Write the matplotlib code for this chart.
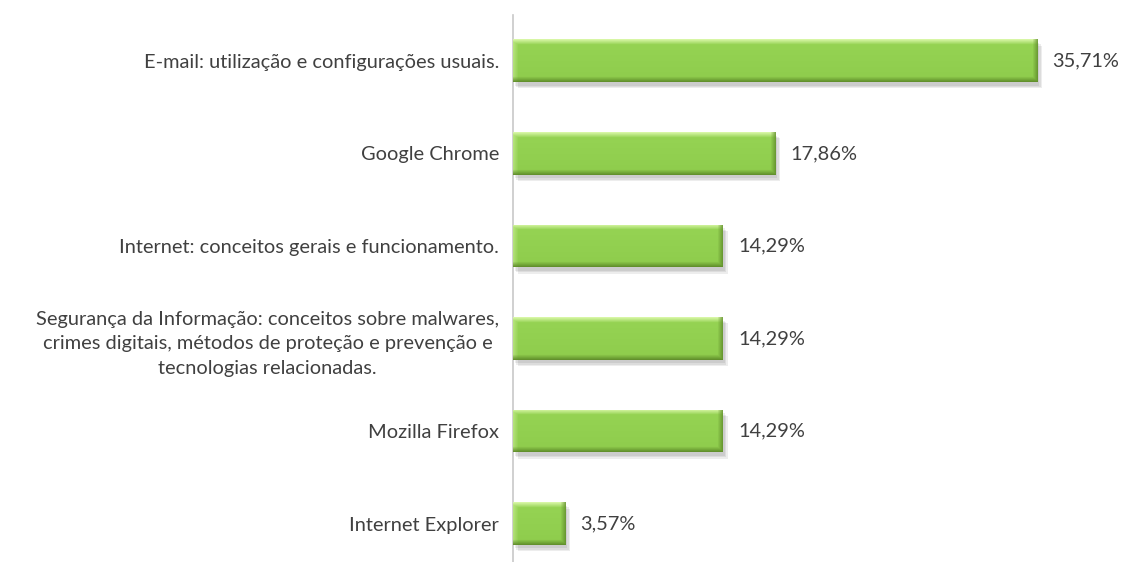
import numpy as np
import matplotlib
matplotlib.use("Agg")
import matplotlib.pyplot as plt
import matplotlib.patheffects as pe
from matplotlib.colors import to_rgb

categories = [
    "E-mail: utilização e configurações usuais.",
    "Google Chrome",
    "Internet: conceitos gerais e funcionamento.",
    "Segurança da Informação: conceitos sobre malwares,\ncrimes digitais, métodos de proteção e prevenção e\ntecnologias relacionadas.",
    "Mozilla Firefox",
    "Internet Explorer",
]
values = [35.71, 17.86, 14.29, 14.29, 14.29, 3.57]
value_labels = ["35,71%", "17,86%", "14,29%", "14,29%", "14,29%", "3,57%"]

plt.rcParams['font.family'] = ['Lato', 'DejaVu Sans']
TEXT = "#404040"
FS = 14.4

fig = plt.figure(figsize=(11.28, 5.62), dpi=100)
top_px, bot_px = 14.5, 570.0
ax = fig.add_axes([513/1128, (562 - bot_px)/562, 587/1128, (bot_px - top_px)/562])

y = np.arange(len(categories))
base = np.array(to_rgb("#92D050"))
light = np.array(to_rgb("#D4F3A2"))
dark = np.array(to_rgb("#5E8A2A"))

shadow = [pe.SimplePatchShadow(offset=(o, -o - 1), shadow_rgbFace="#000000", alpha=0.07)
          for o in (3.5, 2.5, 1.5)]
bars = ax.barh(y, values, height=0.46, color="#92D050", edgecolor="none", zorder=2,
               path_effects=shadow + [pe.Normal()])
ax.set_xlim(0, 40)
ax.set_ylim(len(categories) - 0.5, -0.5)

fig.canvas.draw()
for b in bars:
    x0, y0 = b.get_x(), b.get_y()
    w, h = b.get_width(), b.get_height()
    p0 = ax.transData.transform((x0, y0))
    p1 = ax.transData.transform((x0 + w, y0 + h))
    wp = max(int(abs(p1[0] - p0[0])), 2)
    hp = max(int(abs(p1[1] - p0[1])), 2)
    img = np.tile(base, (hp, wp, 1))
    yy = np.arange(hp)[:, None] * np.ones((1, wp))
    xx = np.ones((hp, 1)) * np.arange(wp)[None, :]
    bev = 5.0
    top = np.clip(1 - yy / bev, 0, 1)
    bot = np.clip(1 - (hp - 1 - yy) / bev, 0, 1)
    left = np.clip(1 - xx / bev, 0, 1)
    right = np.clip(1 - (wp - 1 - xx) / bev, 0, 1)
    lt = np.maximum(top, left * 0.5)[..., None]
    dk = np.maximum(bot * 0.85, right * 0.75)[..., None]
    img = img * (1 - lt) + light * lt
    img = img * (1 - dk) + dark * dk
    shade = (0.03 * (yy / hp - 0.5))[..., None]
    img = np.clip(img - shade, 0, 1)
    im = ax.imshow(img, extent=(x0, x0 + w, y0 + h, y0), origin="upper",
                   aspect="auto", zorder=3, interpolation="bilinear")
    im.set_clip_path(b)

for b, lab in zip(bars, value_labels):
    ax.annotate(lab, (b.get_width(), b.get_y() + b.get_height() / 2),
                xytext=(11, 0), textcoords="offset points", va="center", ha="left",
                fontsize=FS, color=TEXT)

ax.set_yticks(y)
ax.set_yticklabels(categories, fontsize=FS, color=TEXT, multialignment="center",
                   linespacing=1.55)
ax.tick_params(axis="y", length=0, pad=10)
ax.set_xticks([])
for s in ["top", "right", "bottom"]:
    ax.spines[s].set_visible(False)
ax.spines["left"].set_color("#C8C8C8")
ax.spines["left"].set_linewidth(1.2)
ax.set_xlim(0, 40)
ax.set_ylim(len(categories) - 0.5, -0.5)

fig.savefig("out.png", dpi=100)
